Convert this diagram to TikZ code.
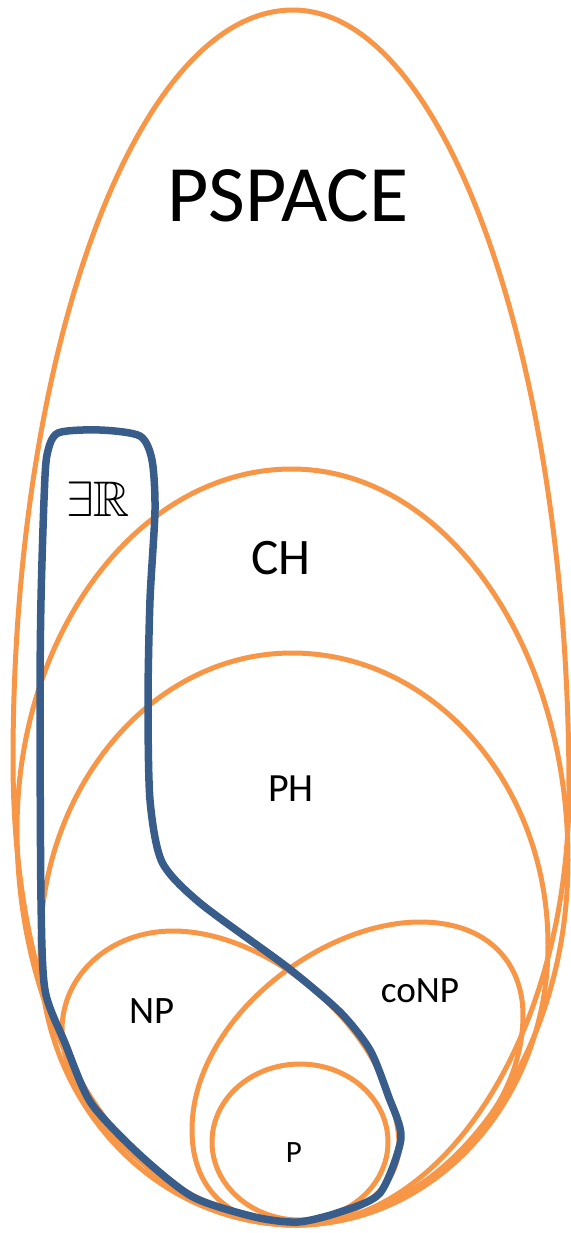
\documentclass[tikz,border=0pt]{standalone}
\usepackage{fontspec}
\setmainfont{Carlito}
\usepackage{amssymb}
\definecolor{classorange}{HTML}{F79646}
\definecolor{erblue}{HTML}{385D8A}

\begin{document}
\begin{tikzpicture}[x=0.5pt, y=-0.5pt,
          classline/.style={draw=classorange, line width=2.5pt},
          erline/.style={draw=erblue, line width=3.75pt, line join=round},
          classlabel/.style={inner sep=0pt, text=black}]

        \useasboundingbox (0,0) rectangle (571,1233);

        % complexity classes
        \draw [classline] (293,10) .. controls (445,10) and (569,360) .. (569,790)
              .. controls (569,1030) and (447,1225) .. (296,1225)
              .. controls (125,1225) and (13,1040) .. (13,760)
              .. controls (13,346) and (138,10) .. cycle;
        \draw [classline] (292,469) .. controls (444,469) and (568,644) .. (568,860)
              .. controls (568,1061) and (446,1225) .. (296,1225)
              .. controls (142,1225) and (17,1048) .. (17,830)
              .. controls (17,631) and (140,469) .. cycle;
        \draw [classline] (292,653) .. controls (433,653) and (548,784) .. (548,945)
              .. controls (548,1100) and (435,1225) .. (296,1225)
              .. controls (155,1225) and (40,1102) .. (40,950)
              .. controls (40,786) and (153,653) .. cycle;
        \draw [classline] (62,1030) .. controls (62,975) and (110,931) .. (173,931)
              .. controls (270,931) and (390,1030) .. (399,1140)
              .. controls (402,1190) and (350,1224) .. (296,1224)
              .. controls (190,1222) and (62,1120) .. cycle;
        \draw [classline] (192,1130) .. controls (192,1020) and (320,922) .. (420,922)
              .. controls (490,922) and (523,965) .. (523,1015)
              .. controls (523,1130) and (400,1225) .. (296,1225)
              .. controls (230,1225) and (192,1190) .. cycle;
        \draw [classline] (300,1142) ellipse [x radius=88, y radius=78];

        % existential theory of the reals
        \draw [erline] plot [smooth cycle, tension=0.45] coordinates {(47,455) (58,433) (100,430) (140,436) (152,460) (155,510) (150,600) (148,700) (150,800) (162,862) (200,903) (287,967) (340,1012) (370,1050) (388,1095) (401,1138) (380,1193) (340,1212) (298,1222) (255,1217) (193,1197) (140,1155) (91,1103) (65,1043) (45,990) (41,900) (40,700) (41,600) (44,500)};

        % labels
        \node [classlabel, font=\fontsize{40}{48}\selectfont] (pspace) at (288,196) {PSPACE};
        \node [classlabel, font=\fontsize{25.6}{30}\selectfont] (ch) at (281,558) {CH};
        \node [classlabel, font=\fontsize{20}{24}\selectfont] (ph) at (291,789) {PH};
        \node [classlabel, font=\fontsize{19.4}{23}\selectfont] (np) at (152,1011) {NP};
        \node [classlabel, font=\fontsize{18.6}{22}\selectfont, anchor=base] (conp) at (420,1002) {coNP};
        \node [classlabel, font=\fontsize{15.5}{18}\selectfont] (p) at (294,1153) {P};
        \node [classlabel, font=\fontsize{25}{30}\selectfont] (er) at (98,499) {$\exists\mathbb{R}$};
      \end{tikzpicture}
\end{document}
